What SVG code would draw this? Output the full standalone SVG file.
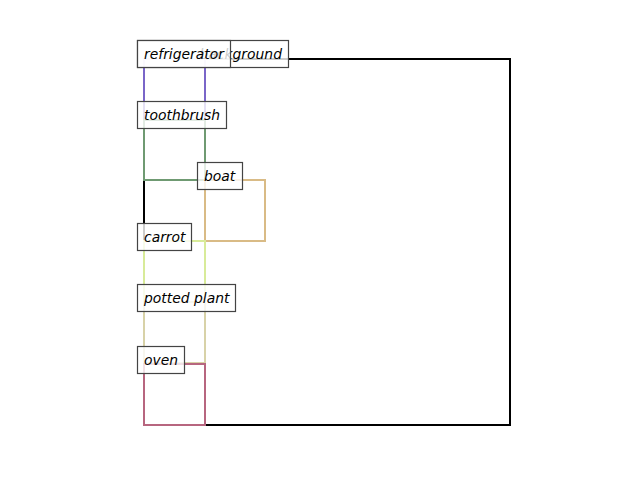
<svg xmlns="http://www.w3.org/2000/svg" width="640" height="480" viewBox="0 0 640 480">
<style>
.box{fill:none;stroke-width:2}
.lbl rect{fill:#ffffff;fill-opacity:0.8;stroke:#444444;stroke-width:1.2}
.lbl text{font-family:"DejaVu Sans",sans-serif;font-style:italic;font-size:13.9px;fill:#000000}
</style>
<rect width="640" height="480" fill="#ffffff"/>
<g id="connectors">
<rect class="box" x="144" y="59" width="366" height="366" stroke="#000000"/>
<rect class="box" x="144" y="59" width="61" height="61" stroke="#7a66c8"/>
<rect class="box" x="144" y="120" width="61" height="60" stroke="#6f9a72"/>
<rect class="box" x="205" y="180" width="60" height="61" stroke="#d9bb86"/>
<rect class="box" x="144" y="241" width="61" height="61" stroke="#d8eb99"/>
<rect class="box" x="144" y="302" width="61" height="61" stroke="#d8d2a8"/>
<rect class="box" x="144" y="364" width="61" height="61" stroke="#b7667f"/>
</g>
<g id="background" class="lbl"><rect x="137.5" y="40.5" width="151" height="27"/><text x="282" y="59" text-anchor="end">background</text></g>
<g id="refrigerator" class="lbl"><rect x="137.5" y="40.5" width="93" height="27"/><text x="144" y="59">refrigerator</text></g>
<g id="toothbrush" class="lbl"><rect x="137.5" y="101.5" width="89" height="27"/><text x="144" y="120">toothbrush</text></g>
<g id="boat" class="lbl"><rect x="197.5" y="162.5" width="45" height="27"/><text x="204" y="181">boat</text></g>
<g id="carrot" class="lbl"><rect x="137.5" y="223.5" width="54" height="27"/><text x="144" y="242">carrot</text></g>
<g id="potted_plant" class="lbl"><rect x="137.5" y="284.5" width="98" height="27"/><text x="144" y="303">potted plant</text></g>
<g id="oven" class="lbl"><rect x="137.5" y="346.5" width="47" height="27"/><text x="144" y="365">oven</text></g>
</svg>
